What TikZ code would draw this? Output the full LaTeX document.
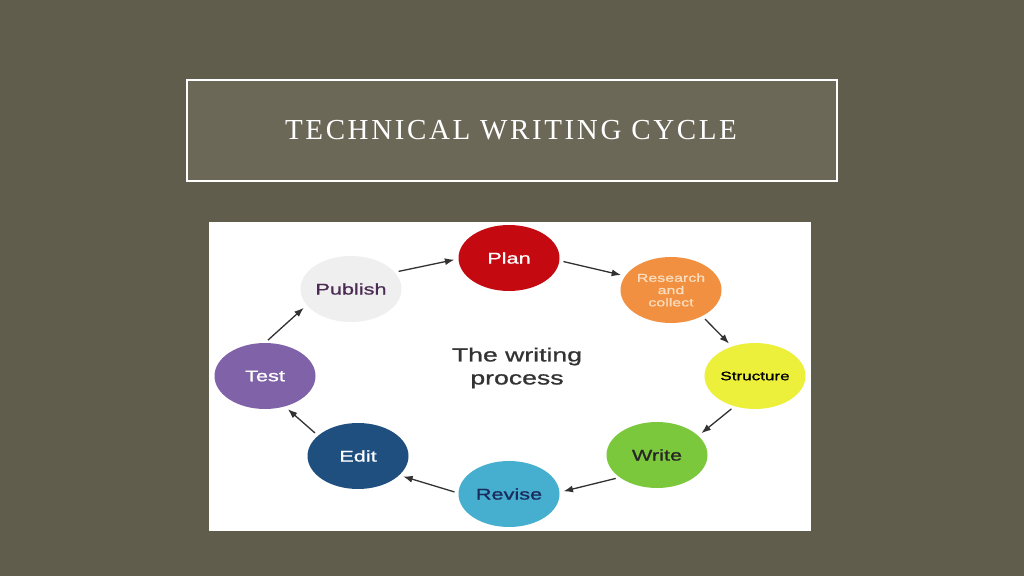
\documentclass[tikz,border=0pt]{standalone}
\usepackage{fontspec}
\setmainfont{Liberation Serif}
\newfontfamily\labfont[FakeStretch=1.4,FakeBold=1]{Liberation Sans}
\newfontfamily\titlefont[LetterSpace=9]{Liberation Serif}
\usetikzlibrary{shapes.geometric,arrows.meta}
\definecolor{bgcol}{RGB}{97,93,77}
\definecolor{boxcol}{RGB}{108,104,88}
\definecolor{plancol}{RGB}{196,10,16}
\definecolor{rescol}{RGB}{240,144,64}
\definecolor{strcol}{RGB}{236,240,58}
\definecolor{wricol}{RGB}{124,200,60}
\definecolor{revcol}{RGB}{70,174,206}
\definecolor{edicol}{RGB}{31,79,127}
\definecolor{tescol}{RGB}{128,98,168}
\definecolor{pubcol}{RGB}{239,239,239}
\definecolor{pubtext}{RGB}{75,43,84}
\definecolor{revtext}{RGB}{27,42,92}
\definecolor{restext}{RGB}{252,222,190}
\definecolor{arrcol}{RGB}{50,50,50}
\tikzset{
  stage/.style={ellipse, minimum width=101pt, minimum height=66pt, inner sep=0pt,
    align=center, font=\labfont\fontsize{15.5}{16}\selectfont},
  arr/.style={draw=arrcol, line width=1.3pt, -{Latex[length=9.5pt,width=7pt]},
    shorten <=4pt, shorten >=4pt}
}
\begin{document}
\begin{tikzpicture}[x=1pt,y=1pt]
\fill[bgcol] (0,0) rectangle (1024,576);
\useasboundingbox (0,0) rectangle (1024,576);
% title box
\node[draw=white, line width=2pt, fill=boxcol, minimum width=650pt, minimum height=101pt,
  inner sep=0pt, anchor=center] (titlebox) at (512,445.5) {};
\node[text=white, font=\titlefont\fontsize{29}{32}\selectfont] (title) at (511,446) {TECHNICAL WRITING CYCLE};
% white panel
\node[fill=white, minimum width=602pt, minimum height=309pt, inner sep=0pt] (panel) at (510,199.5) {};
% stages
\node[stage, fill=plancol, text=white] (plan) at (509,318) {Plan};
\node[stage, fill=rescol, text=restext, font=\labfont\fontsize{11.4}{12.3}\selectfont] (res) at (671,286) {Research\\and\\collect};
\node[stage, fill=strcol, text=black, font=\labfont\fontsize{12.2}{13}\selectfont] (str) at (755,200) {Structure};
\node[stage, fill=wricol, text=black!85] (wri) at (657,121) {Write};
\node[stage, fill=revcol, text=revtext] (rev) at (509,82) {Revise};
\node[stage, fill=edicol, text=white] (edi) at (358,120) {Edit};
\node[stage, fill=tescol, text=white] (tes) at (265,200) {Test};
\node[stage, fill=pubcol, text=pubtext] (pub) at (351,287) {Publish};
% centre text
\node[align=center, text=black!80, font=\labfont\fontsize{19}{23}\selectfont] (centre) at (517,208) {The writing\\process};
% arrows
\draw[arr] (pub.21) -- (plan.181);
\draw[arr] (plan.-3) -- (res.163);
\draw[arr] (res.-40) -- (str.128);
\draw[arr] (str.236) -- (wri.25);
\draw[arr] (wri.211) -- (rev.2);
\draw[arr] (rev.179) -- (edi.-25);
\draw[arr] (edi.153) -- (tes.-57);
\draw[arr] (tes.90) -- (pub.200);
\end{tikzpicture}
\end{document}
